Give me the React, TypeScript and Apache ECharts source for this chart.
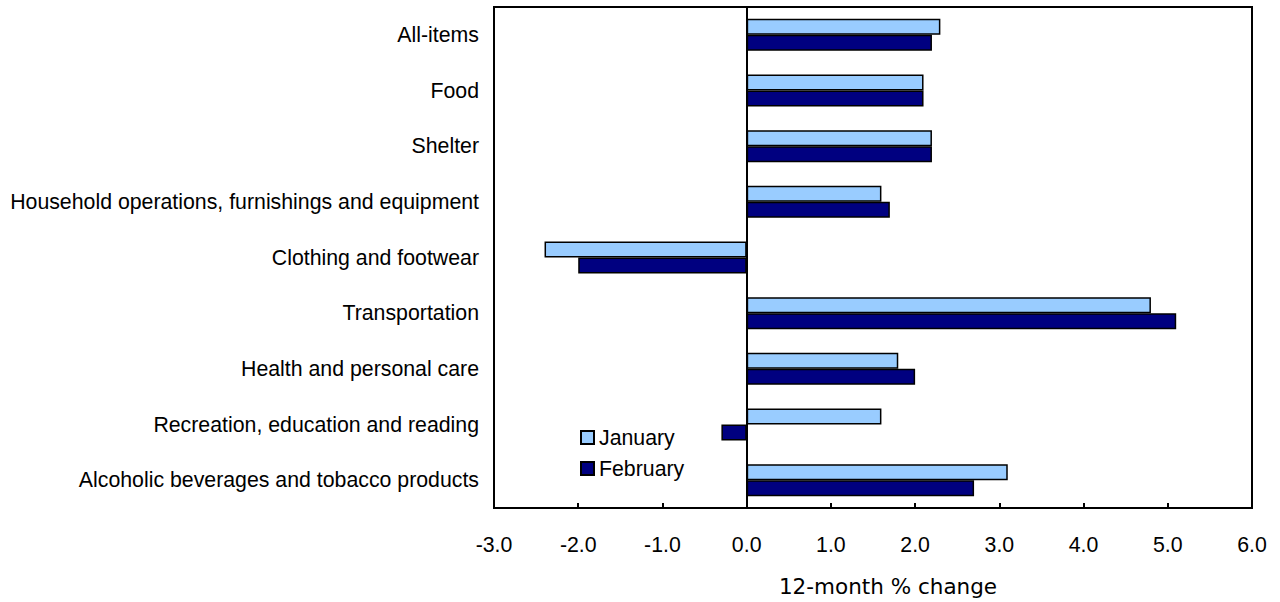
import React, { useEffect, useRef } from "react";
import * as echarts from "echarts";

const categories = [
  "All-items",
  "Food",
  "Shelter",
  "Household operations, furnishings and equipment",
  "Clothing and footwear",
  "Transportation",
  "Health and personal care",
  "Recreation, education and reading",
  "Alcoholic beverages and tobacco products",
];
const january = [2.3, 2.1, 2.2, 1.6, -2.4, 4.8, 1.8, 1.6, 3.1];
const february = [2.2, 2.1, 2.2, 1.7, -2.0, 5.1, 2.0, -0.3, 2.7];
const seriesNames = ["January", "February"];
const axisTitle = "12-month % change";

const FONT = "'Liberation Sans', Arial, sans-serif";

export default function App() {
  const ref = useRef<HTMLDivElement>(null);
  useEffect(() => {
    if (!ref.current) return;
    const chart = echarts.init(ref.current, undefined, { renderer: "svg" });
    const legendBase = {
      orient: "vertical",
      left: 580,
      padding: 0,
      itemWidth: 13,
      itemHeight: 13,
      icon: "rect",
      selectedMode: false,
      textStyle: { fontSize: 21.3, fontFamily: FONT, color: "#000", lineHeight: 21 },
    };
    chart.setOption({
      animation: false,
      backgroundColor: "#fff",
      grid: {
        left: 494,
        right: 28,
        top: 7,
        bottom: 91,
        show: true,
        borderColor: "#000",
        borderWidth: 2,
        containLabel: false,
      },
      legend: [
        { ...legendBase, top: 427, data: [seriesNames[0]] },
        { ...legendBase, top: 458, data: [seriesNames[1]] },
      ],
      xAxis: {
        type: "value",
        min: -3,
        max: 6,
        interval: 1,
        axisLine: { show: true, lineStyle: { color: "#000", width: 2 } },
        axisTick: { show: true, inside: true, length: 5, lineStyle: { color: "#000", width: 2 } },
        axisLabel: {
          fontSize: 21.3,
          fontFamily: FONT,
          color: "#000",
          margin: 26,
          formatter: (v: number) => v.toFixed(1),
        },
        splitLine: { show: false },
        name: axisTitle,
        nameLocation: "middle",
        nameGap: 67,
        nameTextStyle: {
          fontSize: 21.5,
          fontFamily: "'DejaVu Sans', Verdana, sans-serif",
          color: "#000",
          padding: [0, 0, 0, 30],
        },
      },
      yAxis: {
        type: "category",
        data: categories,
        inverse: true,
        axisLine: { show: false },
        axisTick: { show: false },
        axisLabel: { fontSize: 21.3, fontFamily: FONT, color: "#000", margin: 15 },
        splitLine: { show: false },
      },
      series: [
        {
          name: seriesNames[0],
          type: "bar",
          data: january,
          barWidth: 16,
          barGap: "0%",
          itemStyle: { color: "#99CCFF", borderColor: "#000", borderWidth: 1.5 },
        },
        {
          name: seriesNames[1],
          type: "bar",
          data: february,
          barWidth: 16,
          barGap: "0%",
          itemStyle: { color: "#000080", borderColor: "#000", borderWidth: 1.5 },
          markLine: {
            silent: true,
            symbol: ["none", "none"],
            label: { show: false },
            lineStyle: { color: "#000", width: 2, type: "solid" },
            data: [{ xAxis: 0 }],
          },
        },
      ],
    });
    return () => chart.dispose();
  }, []);
  return (
    <div
      ref={ref}
      style={{ position: "absolute", left: 0, top: 0, width: 1280, height: 602 }}
    />
  );
}
